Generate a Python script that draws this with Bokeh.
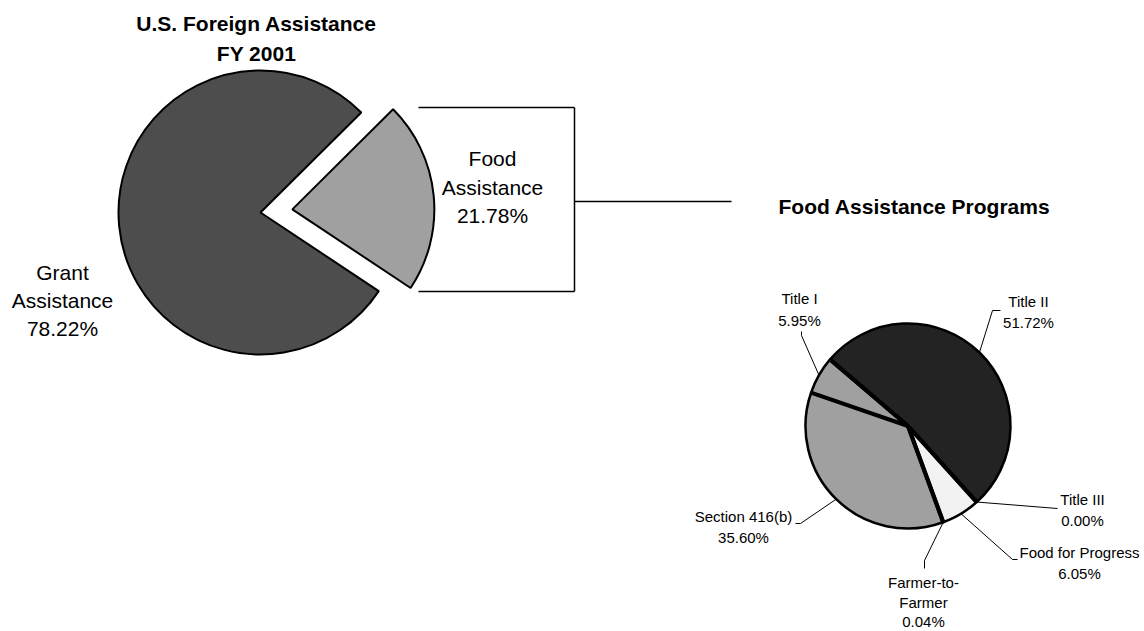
import math
from bokeh.plotting import figure
from bokeh.models import Range1d
from bokeh.core.properties import value
from bokeh.embed import file_html
from bokeh.resources import INLINE

# ---------------- data ----------------
main_categories = ["Grant Assistance", "Food Assistance"]
main_values = [78.22, 21.78]
main_colors = ["#4d4d4d", "#a0a0a0"]

food_programs = ["Title II", "Title III", "Food for Progress",
                 "Farmer-to-Farmer", "Section 416(b)", "Title I"]
food_values = [51.72, 0.00, 6.05, 0.04, 35.60, 5.95]
food_colors = ["#232323", "#f2f2f2", "#f2f2f2", "#000000", "#a0a0a0", "#a0a0a0"]

title_main = ["U.S. Foreign Assistance", "FY 2001"]
title_sub = "Food Assistance Programs"

# ---------------- layout (page pixel coordinates) ----------------
FONT = "Liberation Sans"
W, H = 1144, 631


def Y(py):
    return H - py


line_splits = {"Grant Assistance": ["Grant", "Assistance"],
               "Food Assistance": ["Food", "Assistance"],
               "Farmer-to-Farmer": ["Farmer-to-", "Farmer"]}

# left pie
L_CX, L_CY, L_R = 260, 212, 142
L_START = 44.8          # degrees, first slice drawn anticlockwise
L_EXPLODE = 32
main_label_pos = {"Grant Assistance": (62, [272, 300, 328]),
                  "Food Assistance": (492, [158, 187, 215])}

# right pie
R_CX, R_CY, R_R = 907.5, 425.5, 102.5
R_START = 139.5         # degrees, slices go clockwise
food_label_pos = {
    "Title II": (1028, [301, 322], [(992, 310), (1000, 310)]),
    "Title III": (1082, [499, 520], [(1057, 508)]),
    "Food for Progress": (1079, [552, 573], [(1012, 559), (1017, 559)]),
    "Farmer-to-Farmer": (923, [582, 602, 621], [(924, 560), (924, 568)]),
    "Section 416(b)": (743, [516, 537], [(800, 523), (795, 523)]),
    "Title I": (799, [298, 320], [(801, 335), (801, 331)]),
}

# series (connector) lines
BR_X0, BR_X1, BR_TOP, BR_BOT, BR_MID, BR_END = 418, 574, 107, 291, 201, 731

p = figure(width=W, height=H, output_backend="svg", toolbar_location=None,
           x_range=Range1d(0, W), y_range=Range1d(0, H),
           min_border=0)
p.axis.visible = False
p.grid.visible = False
p.outline_line_color = None
p.background_fill_color = "white"
p.border_fill_color = "white"


def add_text(x, y, txt, size, bold=False, align="center"):
    p.text(x=[x], y=[Y(y)], text=[txt], text_font=value(FONT),
           text_font_size=size, text_font_style="bold" if bold else "normal",
           text_align=align, text_baseline="middle", text_color="black")


# ---------------- left pie ----------------
tot = sum(main_values)
a = L_START
for cat, v, c in zip(main_categories, main_values, main_colors):
    span = v / tot * 360.0
    s, e = a, a + span
    mid = math.radians((s + e) / 2)
    cx, cy = L_CX, Y(L_CY)
    if cat == "Food Assistance":
        cx += L_EXPLODE * math.cos(mid)
        cy += L_EXPLODE * math.sin(mid)
    p.wedge(x=[cx], y=[cy], radius=L_R, start_angle=[math.radians(s)],
            end_angle=[math.radians(e)], fill_color=c, line_color="black",
            line_width=2)
    a = e
    lx, lys = main_label_pos[cat]
    lines = line_splits.get(cat, [cat]) + [f"{v:.2f}%"]
    for t, ly in zip(lines, lys):
        add_text(lx, ly, t, "21px")

for i, t in enumerate(title_main):
    add_text(256, [23, 53][i], t, "21px", bold=True)

# connector lines
p.segment(x0=[BR_X0, BR_X0, BR_X1, BR_X1], y0=[Y(BR_TOP), Y(BR_BOT), Y(BR_TOP), Y(BR_MID)],
          x1=[BR_X1, BR_X1, BR_X1, BR_END], y1=[Y(BR_TOP), Y(BR_BOT), Y(BR_BOT), Y(BR_MID)],
          line_color="black", line_width=1.5)

add_text(778, 206, title_sub, "21px", bold=True, align="left")

# ---------------- right pie ----------------
ftot = sum(food_values)
a = R_START
bounds = [a]
for name, v, c in zip(food_programs, food_values, food_colors):
    span = v / ftot * 360.0
    e = a
    s = a - span
    if span > 0:
        p.wedge(x=[R_CX], y=[Y(R_CY)], radius=R_R, start_angle=[math.radians(s)],
                end_angle=[math.radians(e)], fill_color=c, line_color="black",
                line_width=2.5)
    mid = math.radians((s + e) / 2)
    ex = R_CX + R_R * math.cos(mid)
    ey = Y(R_CY) + R_R * math.sin(mid)
    lx, lys, route = food_label_pos[name]
    xs = [ex] + [q[0] for q in route]
    ys = [ey] + [Y(q[1]) for q in route]
    p.line(xs, ys, line_color="black", line_width=1)
    lines = line_splits.get(name, [name]) + [f"{v:.2f}%"]
    for t, ly in zip(lines, lys):
        add_text(lx, ly, t, "15px")
    a = s
    bounds.append(s)

# thick slice separators
sx1 = [R_CX + R_R * math.cos(math.radians(b)) for b in bounds]
sy1 = [Y(R_CY) + R_R * math.sin(math.radians(b)) for b in bounds]
p.segment(x0=[R_CX] * len(bounds), y0=[Y(R_CY)] * len(bounds), x1=sx1, y1=sy1,
          line_color="black", line_width=4)

open("out.html", "w").write(file_html(p, INLINE))
